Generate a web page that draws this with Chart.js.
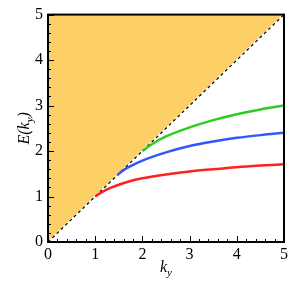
<!DOCTYPE html>
<html><head>
<script src="https://cdn.jsdelivr.net/npm/chart.js@4"></script>
<style>html,body{margin:0;padding:0;background:#fff;overflow:hidden}</style>
</head><body>
<canvas id="c" width="291" height="291"></canvas>
<script>
const boundaryK = [0, 5];
const redK   = [1, 1.1, 1.2, 1.35, 1.5, 1.75, 2, 2.5, 3, 3.5, 4, 4.5, 5];
const redE   = [1, 1.07, 1.13, 1.20, 1.26, 1.34, 1.40, 1.485, 1.55, 1.60, 1.645, 1.68, 1.71];
const blueK  = [1.47, 1.6, 1.75, 2, 2.5, 3, 3.5, 4, 4.5, 5];
const blueE  = [1.47, 1.58, 1.67, 1.79, 1.97, 2.11, 2.21, 2.29, 2.35, 2.40];
const greenK = [2, 2.2, 2.5, 3, 3.5, 4, 4.5, 5];
const greenE = [2, 2.15, 2.32, 2.52, 2.68, 2.81, 2.915, 3.0];
const tickValues = [0, 1, 2, 3, 4, 5];

const pts = (xs, ys) => xs.map((x, i) => ({x: x, y: ys[i]}));
const FONT = "'Liberation Serif', serif";

const decor = {
  id: 'decor',
  afterDatasetsDraw(chart) {
    const ctx = chart.ctx, a = chart.chartArea;
    const xs = chart.scales.x, ys = chart.scales.y;
    ctx.save();
    ctx.strokeStyle = '#000';
    ctx.lineWidth = 1;
    for (let i = 0; i <= 25; i++) {
      const v = i * 0.2;
      const major = i % 5 === 0;
      const len = major ? 6 : 3;
      const px = Math.round(xs.getPixelForValue(v)) + 0.5;
      ctx.beginPath(); ctx.moveTo(px, a.bottom); ctx.lineTo(px, a.bottom - len); ctx.stroke();
      const py = Math.round(ys.getPixelForValue(v)) + 0.5;
      ctx.beginPath(); ctx.moveTo(a.left, py); ctx.lineTo(a.left + len, py); ctx.stroke();
    }
    ctx.lineWidth = 2;
    ctx.strokeRect(a.left, a.top, a.right - a.left, a.bottom - a.top);
    ctx.restore();
  },
  afterDraw(chart) {
    const ctx = chart.ctx, a = chart.chartArea;
    ctx.save();
    ctx.fillStyle = '#000';
    ctx.textBaseline = 'alphabetic';
    const main = "italic 16px " + FONT, sub = "italic 11px " + FONT;
    ctx.font = main; const wk = ctx.measureText('k').width;
    ctx.font = sub; const wy = ctx.measureText('y').width;
    const cx = (a.left + a.right) / 2;
    let x0 = cx - (wk + wy) / 2;
    ctx.font = main; ctx.fillText('k', x0, 272);
    ctx.font = sub; ctx.fillText('y', x0 + wk, 276);
    ctx.translate(29, (a.top + a.bottom) / 2);
    ctx.rotate(-Math.PI / 2);
    ctx.font = main; const w1 = ctx.measureText('E(k').width; const w3 = ctx.measureText(')').width;
    ctx.font = sub; const w2 = ctx.measureText('y').width;
    let s = -(w1 + w2 + w3) / 2;
    ctx.font = main; ctx.fillText('E(k', s, 0);
    ctx.font = sub; ctx.fillText('y', s + w1, 4);
    ctx.font = main; ctx.fillText(')', s + w1 + w2, 0);
    ctx.restore();
  }
};

new Chart(document.getElementById('c'), {
  type: 'line',
  data: {
    datasets: [
      {data: pts(boundaryK, boundaryK), fill: 'end', backgroundColor: '#FDD067', borderWidth: 0, pointRadius: 0, order: 6},
      {data: pts(boundaryK, boundaryK), fill: false, borderColor: '#fff', borderWidth: 1.6, pointRadius: 0, order: 5},
      {data: pts(boundaryK, boundaryK), fill: false, borderColor: '#000', borderWidth: 1.2, borderDash: [3, 3], pointRadius: 0, order: 4},
      {data: pts(redK, redE), borderColor: '#FF2020', borderWidth: 2.5, pointRadius: 0, fill: false, cubicInterpolationMode: 'monotone', order: 1},
      {data: pts(blueK, blueE), borderColor: '#3355FF', borderWidth: 2.5, pointRadius: 0, fill: false, cubicInterpolationMode: 'monotone', order: 1},
      {data: pts(greenK, greenE), borderColor: '#2ECC1E', borderWidth: 2.5, pointRadius: 0, fill: false, cubicInterpolationMode: 'monotone', order: 1}
    ]
  },
  options: {
    responsive: false,
    animation: false,
    devicePixelRatio: 1,
    layout: {padding: {top: 6, right: 7, left: 0, bottom: 0}},
    plugins: {legend: {display: false}, tooltip: {enabled: false}},
    scales: {
      x: {
        type: 'linear', min: 0, max: 5,
        afterBuildTicks(s) { s.ticks = tickValues.map(v => ({value: v})); },
        ticks: {font: {family: FONT, size: 16}, color: '#000', padding: 3, maxRotation: 0},
        grid: {display: false, drawTicks: false},
        border: {display: false},
        afterFit(s) { s.height = 49; }
      },
      y: {
        type: 'linear', min: 0, max: 5,
        afterBuildTicks(s) { s.ticks = tickValues.map(v => ({value: v})); },
        ticks: {font: {family: FONT, size: 16}, color: '#000', padding: 5},
        grid: {display: false, drawTicks: false},
        border: {display: false},
        afterFit(s) { s.width = 48; }
      }
    }
  },
  plugins: [decor]
});
</script>
</body></html>
